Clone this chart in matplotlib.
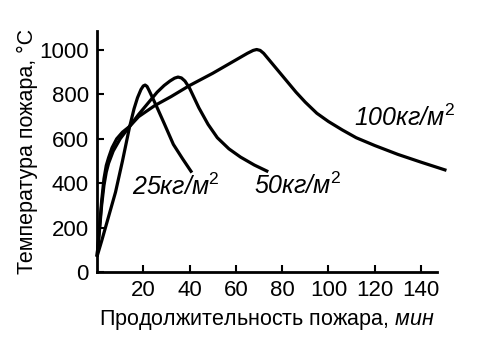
import matplotlib
matplotlib.use("Agg")
import matplotlib.pyplot as plt

# кривые температуры пожара при разной пожарной нагрузке
t_25 = [0, 2, 5, 8, 11, 14, 16, 17.5, 19, 20, 20.8, 21.6, 22.5, 24, 26, 29, 33, 37, 41]
temp_25 = [70, 140, 250, 360, 500, 650, 735, 785, 822, 838, 842, 836, 818, 785, 740, 670, 575, 510, 448]

t_50 = [0, 1, 2, 3, 4, 5, 7, 10, 14, 18, 22, 26, 29, 31.5, 33.5, 35, 36.5, 38, 40, 44, 48, 52, 57, 62, 68, 74]
temp_50 = [70, 180, 300, 390, 450, 490, 545, 600, 655, 710, 760, 810, 840, 860, 873, 878, 874, 860, 828, 740, 665, 605, 555, 518, 482, 452]

t_100 = [0, 1, 2, 3, 4, 5, 6.5, 8.5, 11, 14, 18, 25, 32, 40, 50, 60, 65, 67.5, 69, 70.5, 72, 74, 78, 82, 86, 90, 95, 100, 106, 112, 120, 130, 140, 151]
temp_100 = [70, 190, 320, 420, 480, 515, 560, 600, 630, 655, 700, 750, 790, 840, 895, 955, 985, 998, 1002, 998, 985, 960, 910, 860, 810, 765, 715, 678, 640, 605, 570, 530, 495, 458]

labels = ["25кг/м$^2$", "50кг/м$^2$", "100кг/м$^2$"]
label_pos = [(15, 383), (68, 387), (111, 694)]

xticks = [20, 40, 60, 80, 100, 120, 140]
yticks = [0, 200, 400, 600, 800, 1000]

plt.rcParams['font.family'] = ['Liberation Sans', 'DejaVu Sans']
plt.rcParams['mathtext.fontset'] = 'custom'
plt.rcParams['mathtext.rm'] = 'Liberation Sans'
plt.rcParams['mathtext.it'] = 'Liberation Sans:italic'

fig = plt.figure(figsize=(5, 3.53), dpi=100)
ax = fig.add_axes([0.194, 0.229, 0.679, 0.683])

for t, temp in [(t_25, temp_25), (t_50, temp_50), (t_100, temp_100)]:
    ax.plot(t, temp, color='black', lw=2.3, clip_on=False,
            solid_capstyle='butt', solid_joinstyle='round')

for text, (x, y) in zip(labels, label_pos):
    ax.text(x, y, text, fontsize=18, style='italic', va='center', ha='left')

ax.set_xlim(0, 146.7)
ax.set_ylim(0, 1085)
ax.set_xticks(xticks)
ax.set_yticks(yticks)
ax.tick_params(direction='in', length=5, width=1.5, labelsize=16, pad=6)
for side in ['top', 'right']:
    ax.spines[side].set_visible(False)
for side in ['left', 'bottom']:
    ax.spines[side].set_linewidth(2)

ax.set_xlabel("Продолжительность пожара, $\\it{мин}$", fontsize=15.5, labelpad=5)
ax.set_ylabel("Температура пожара, °C", fontsize=15.5, labelpad=1)

fig.savefig("out.png", dpi=100)
